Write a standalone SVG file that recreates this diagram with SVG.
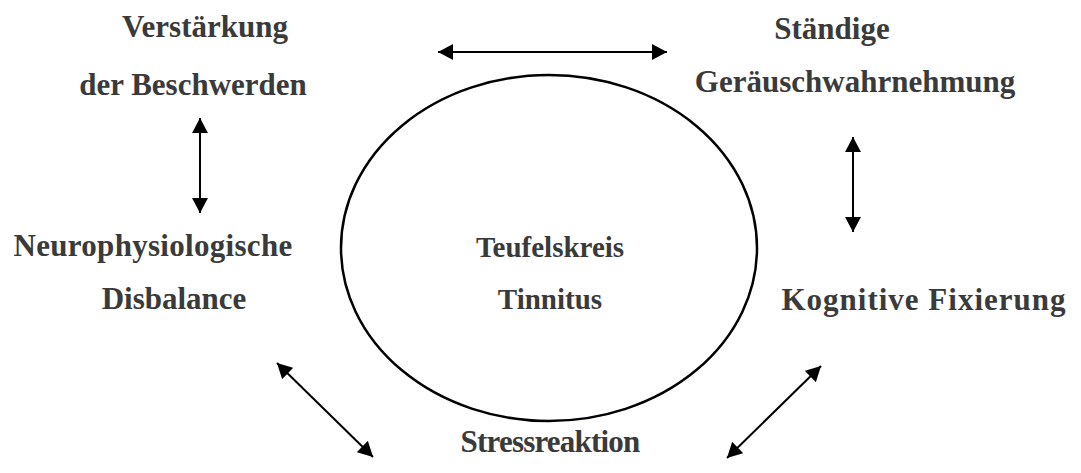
<svg xmlns="http://www.w3.org/2000/svg" width="1081" height="473" viewBox="0 0 1081 473">
  <defs>
    <marker id="head" markerUnits="userSpaceOnUse" markerWidth="16" markerHeight="16" refX="15" refY="8" orient="auto-start-reverse">
      <path d="M0,0 L15,8 L0,16 Z" fill="#000"/>
    </marker>
    <style>
      .lbl { font-family: "Liberation Serif", "Times New Roman", serif; font-weight: bold; font-size: 31px; fill: #3a3a3a; text-anchor: middle; }
      .inner { font-size: 29px; }
      .link { stroke: #000; stroke-width: 2; fill: none; marker-start: url(#head); marker-end: url(#head); }
    </style>
  </defs>
  <rect width="1081" height="473" fill="#fff"/>

  <!-- central cycle -->
  <g id="center">
    <ellipse cx="549" cy="248" rx="208" ry="173" fill="none" stroke="#000" stroke-width="2.5"/>
    <text class="lbl inner" x="550" y="257">Teufelskreis</text>
    <text class="lbl inner" x="550" y="309">Tinnitus</text>
  </g>

  <g id="verstaerkung">
    <text class="lbl" x="205" y="37">Verstärkung</text>
    <text class="lbl" x="193" y="95">der Beschwerden</text>
  </g>

  <g id="wahrnehmung">
    <text class="lbl" x="832" y="39">Ständige</text>
    <text class="lbl" x="855" y="92">Geräuschwahrnehmung</text>
  </g>

  <g id="disbalance">
    <text class="lbl" x="153" y="256" letter-spacing="0.3">Neurophysiologische</text>
    <text class="lbl" x="174" y="309">Disbalance</text>
  </g>

  <g id="fixierung">
    <text class="lbl" x="924" y="310" letter-spacing="1">Kognitive Fixierung</text>
  </g>

  <g id="stress">
    <text class="lbl" x="550" y="452" letter-spacing="-0.8">Stressreaktion</text>
  </g>

  <!-- two-way connectors -->
  <g id="connectors">
    <line class="link" x1="438" y1="52" x2="667" y2="52"/>
    <line class="link" x1="200" y1="118" x2="200" y2="213"/>
    <line class="link" x1="853" y1="137" x2="853" y2="232"/>
    <line class="link" x1="277" y1="363" x2="373" y2="457"/>
    <line class="link" x1="821" y1="366" x2="727" y2="458"/>
  </g>
</svg>
